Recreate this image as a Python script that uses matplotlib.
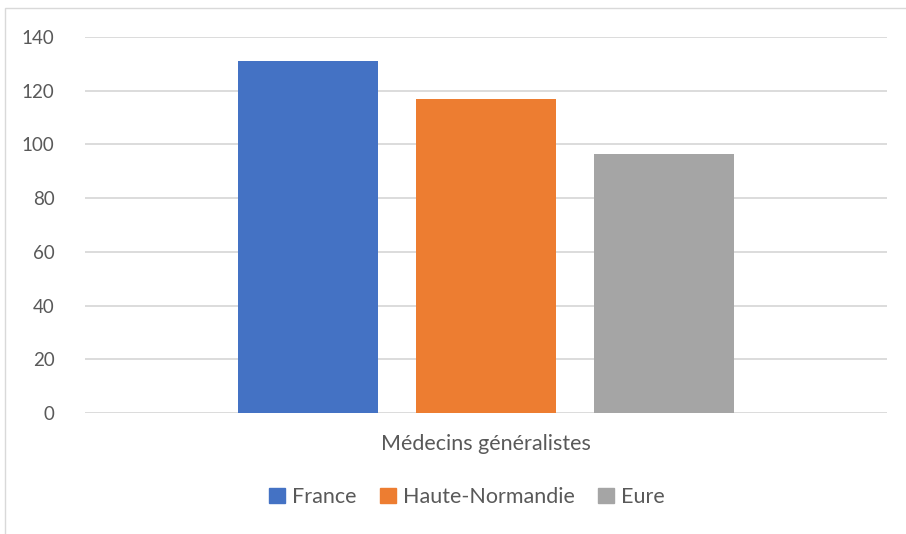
import matplotlib.pyplot as plt
from matplotlib.patches import Rectangle, Patch

category = "Médecins généralistes"
series = ["France", "Haute-Normandie", "Eure"]
values = [131, 117, 96.5]
colors = ["#4472C4", "#ED7D31", "#A5A5A5"]

plt.rcParams['font.family'] = ['Lato', 'DejaVu Sans']

fig = plt.figure(figsize=(9.06, 5.34), dpi=100)
ax = fig.add_axes([0.0938, 0.2266, 0.979 - 0.0938, 0.9307 - 0.2266])

width = 0.175
step = 0.222
for i, (name, v, c) in enumerate(zip(series, values, colors)):
    ax.bar((i - 1) * step, v, width=width, color=c, label=name, zorder=3)

ax.set_xlim(-0.5, 0.5)
ax.set_ylim(0, 140)
ax.set_yticks(range(0, 141, 20))
ax.set_xticks([])
ax.yaxis.grid(True, color="#D9D9D9", linewidth=1.3, zorder=0)
for s in ax.spines.values():
    s.set_visible(False)
ax.tick_params(axis='y', length=0, pad=22, labelsize=13.5, labelcolor="#595959")

ax.text(0.5, -0.082, category, transform=ax.transAxes, ha='center', va='center',
        fontsize=15.5, color="#595959")

handles = [Patch(color=c, label=n) for n, c in zip(series, colors)]
fig.legend(handles=handles, loc='center', bbox_to_anchor=(467 / 906, 1 - 497 / 534),
           ncol=3, frameon=False, fontsize=15.5, labelcolor="#595959",
           handlelength=0.75, handleheight=0.75, handletextpad=0.3, columnspacing=1.1)

fig.patches.append(Rectangle((5 / 906, -0.1), 1.2, 1 - 8 / 534 + 0.1, transform=fig.transFigure,
                             fill=False, edgecolor="#D9D9D9", linewidth=1))

fig.savefig("out.png", dpi=100)
